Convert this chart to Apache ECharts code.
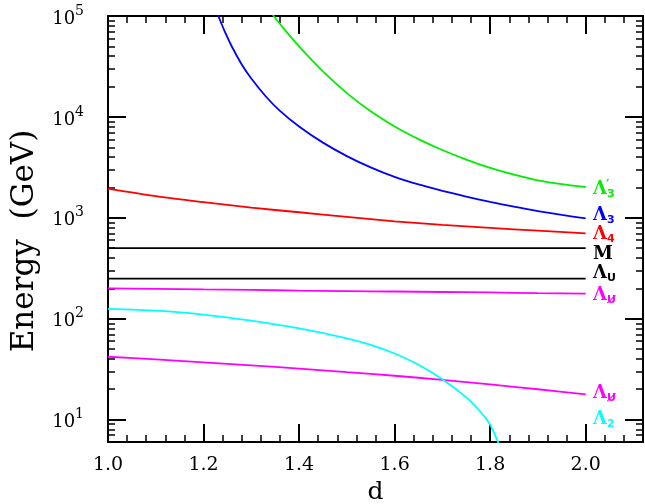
<!DOCTYPE html>
<html>
<head>
<meta charset="utf-8">
<script src="https://cdn.jsdelivr.net/npm/echarts@6/dist/echarts.min.js"></script>
<style>
  html, body { margin: 0; padding: 0; background: #fff; }
  #chart { width: 645px; height: 504px; }
</style>
</head>
<body>
<div id="chart"></div>
<script>
// d values and energies (GeV)
const dGrid = [1.0, 1.1, 1.2, 1.3, 1.4, 1.5, 1.6, 1.7, 1.8, 1.9, 2.0]
const lambda4 = [1950, 1640, 1430, 1260, 1135, 1023, 923, 851, 794, 745, 700]
const massM = [500, 500, 500, 500, 500, 500, 500, 500, 500, 500, 500]
const lambdaU = [250, 250, 250, 250, 250, 250, 250, 250, 250, 250, 250]
const lambdaUslashHi = [200, 198, 195, 193, 190, 188, 186, 184, 182, 179, 177]
const lambdaUslashLo = [42, 39.5, 37, 34.5, 32, 29.5, 27.2, 24.8, 22.3, 20, 17.8]

const dLambda3 = [1.22, 1.231, 1.245, 1.26, 1.28, 1.30, 1.33, 1.36, 1.40, 1.45, 1.50, 1.55, 1.60, 1.65, 1.70, 1.75, 1.80, 1.85, 1.90, 1.95, 2.0]
const lambda3 = [135000, 100000, 69200, 49000, 33100, 24000, 16030, 11480, 8040, 5560, 4090, 3160, 2540, 2140, 1854, 1622, 1439, 1288, 1164, 1067, 989]

const dLambda3p = [1.33, 1.347, 1.375, 1.40, 1.45, 1.50, 1.55, 1.60, 1.65, 1.70, 1.75, 1.80, 1.85, 1.90, 1.95, 2.0]
const lambda3p = [131800, 100000, 68400, 50100, 28200, 17200, 11350, 8040, 6030, 4700, 3780, 3130, 2680, 2355, 2160, 2020]

const dLambda2 = [1.0, 1.1, 1.2, 1.3, 1.4, 1.5, 1.55, 1.6, 1.65, 1.7, 1.75, 1.78, 1.80, 1.82]
const lambda2 = [125, 120, 110, 95.5, 80, 64, 55, 45.2, 35, 25.1, 16.6, 11.9, 8.9, 5.5]

// minor tick values on the log axis (2..9 in each decade)
const yMinor = [7, 8, 9]
;[10, 100, 1000, 10000].forEach(function (b) {
  for (let k = 2; k <= 9; k++) yMinor.push(b * k)
})

function pairs(xs, ys) {
  return xs.map(function (x, i) { return [x, ys[i]] })
}

const FONT = 'DejaVu Serif'
const chart = echarts.init(document.getElementById('chart'))

function xAxisDef(pos, labels) {
  return {
    type: 'value',
    position: pos,
    min: 1.0,
    max: 2.12,
    interval: 0.2,
    axisLine: { show: true, onZero: false, lineStyle: { color: '#000', width: 2 } },
    axisTick: { show: true, inside: true, length: 18, lineStyle: { color: '#000', width: 2 } },
    minorTick: { show: true, splitNumber: 5, length: 7, lineStyle: { color: '#000', width: 1.5 } },
    splitLine: { show: false },
    axisLabel: {
      show: labels,
      showMaxLabel: false,
      margin: 14,
      fontFamily: FONT,
      fontSize: 19,
      color: '#000',
      formatter: function (v) { return v.toFixed(1) }
    },
    name: labels ? 'd' : '',
    nameLocation: 'middle',
    nameGap: 36,
    nameTextStyle: { fontFamily: FONT, fontSize: 25, color: '#000' }
  }
}

function yAxisDef(pos, minor, labels) {
  const ax = {
    type: 'log',
    logBase: 10,
    position: pos,
    min: 6,
    max: 100000,
    axisLine: { show: !minor, onZero: false, lineStyle: { color: '#000', width: 2 } },
    axisTick: { show: true, inside: true, length: minor ? 7 : 18, lineStyle: { color: '#000', width: minor ? 1.5 : 2 } },
    splitLine: { show: false },
    axisLabel: { show: false }
  }
  if (minor) ax.axisTick.customValues = yMinor
  if (labels) {
    ax.axisLabel = {
      show: true,
      showMinLabel: false,
      margin: 24,
      color: '#000',
      formatter: function (v) {
        const n = Math.round(Math.log10(v))
        return '{b|10}{e|' + n + '}'
      },
      rich: {
        b: { fontFamily: FONT, fontSize: 18, lineHeight: 24, verticalAlign: 'bottom', color: '#000' },
        e: { fontFamily: FONT, fontSize: 14, lineHeight: 24, verticalAlign: 'top', color: '#000' }
      }
    }
    ax.name = 'Energy  (GeV)'
    ax.nameLocation = 'middle'
    ax.nameGap = 68
    ax.nameTextStyle = { fontFamily: FONT, fontSize: 31, color: '#000', padding: [0, 24, 0, 0] }
  }
  return ax
}

function line(data, color) {
  return {
    type: 'line',
    data: data,
    showSymbol: false,
    smooth: 0.25,
    clip: true,
    xAxisIndex: 0,
    yAxisIndex: 0,
    lineStyle: { color: color, width: 1.8 },
    itemStyle: { color: color },
    silent: true
  }
}

const labRich = {
  L: { fontFamily: FONT, fontSize: 18, fontWeight: 'bold', lineHeight: 20, verticalAlign: 'middle' },
  s: { fontFamily: 'DejaVu Sans', fontSize: 11, fontWeight: 'bold', lineHeight: 20, padding: [10, 0, 0, 0] }
}

function lab(text, y, color) {
  return {
    type: 'text',
    left: 593,
    top: y - 10,
    style: { text: text, rich: labRich, fill: color, font: 'bold 18px ' + FONT }
  }
}

chart.setOption({
  animation: false,
  grid: { left: 108, right: 2, top: 16, bottom: 62, containLabel: false, outerBoundsMode: 'none' },
  xAxis: [xAxisDef('bottom', true), xAxisDef('top', false)],
  yAxis: [
    yAxisDef('left', false, true),
    yAxisDef('left', true, false),
    yAxisDef('right', false, false),
    yAxisDef('right', true, false)
  ],
  series: [
    line(pairs(dLambda3p, lambda3p), '#00ee00'),
    line(pairs(dLambda3, lambda3), '#0000ff'),
    line(pairs(dGrid, lambda4), '#ff0000'),
    line(pairs(dGrid, massM), '#000000'),
    line(pairs(dGrid, lambdaU), '#000000'),
    line(pairs(dGrid, lambdaUslashHi), '#ff00ff'),
    line(pairs(dGrid, lambdaUslashLo), '#ff00ff'),
    line(pairs(dLambda2, lambda2), '#00ffff')
  ],
  graphic: [
    lab('{L|Λ}{s|3}', 189, '#00ee00'),
    { type: 'text', left: 606, top: 179, style: { text: '′', fill: '#00ee00', font: 'bold 13px ' + FONT } },
    lab('{L|Λ}{s|3}', 215, '#0000ff'),
    lab('{L|Λ}{s|4}', 234, '#ff0000'),
    lab('{L|M}', 255, '#000000'),
    lab('{L|Λ}{s|U}', 273, '#000000'),
    lab('{L|Λ}{s|U\u0338}', 295, '#ff00ff'),
    lab('{L|Λ}{s|U\u0338}', 393, '#ff00ff'),
    lab('{L|Λ}{s|2}', 419, '#00ffff')
  ]
})
</script>
</body>
</html>
